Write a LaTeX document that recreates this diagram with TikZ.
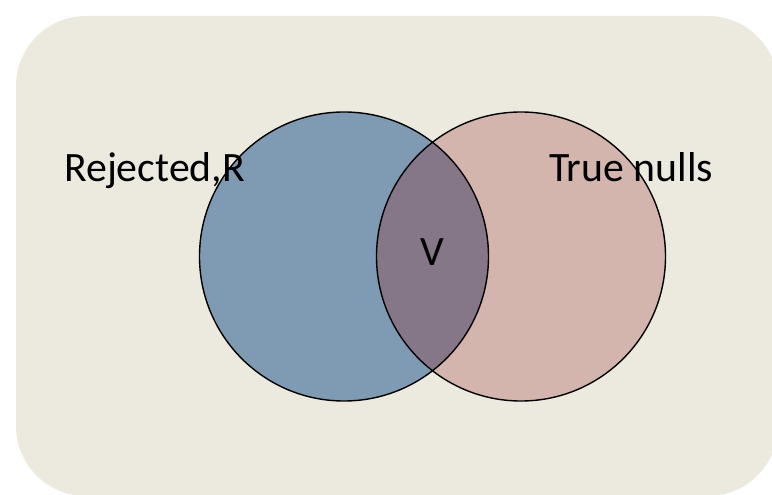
\documentclass[tikz,border=0pt]{standalone}
\usepackage{fontspec}
\setmainfont{Carlito}
\definecolor{bgbeige}{HTML}{ECE9DF}
\definecolor{setblue}{HTML}{7F9AB3}
\definecolor{setpink}{HTML}{D4B5AE}
\definecolor{setmix}{HTML}{857788}
\begin{document}
\begin{tikzpicture}[x=1pt,y=-1pt,
  lbl/.style={font=\fontsize{41.8}{50}\selectfont, inner sep=0pt, text=black},
  setcirc/.style={circle, minimum size=289pt, inner sep=0pt, draw=black, line width=1.4pt}]
\useasboundingbox (0,0) rectangle (772,495);
\begin{scope}
  \clip (0,0) rectangle (772,495);
  \fill[bgbeige, rounded corners=70pt] (16,16) rectangle (778,496);
\end{scope}
\fill[setblue] (344,256.5) circle (144.5);
\fill[setpink] (521,256.5) circle (144.5);
\begin{scope}
  \clip (344,256.5) circle (144.5);
  \fill[setmix] (521,256.5) circle (144.5);
\end{scope}
\node[setcirc] (rej) at (344,256.5) {};
\node[setcirc] (tru) at (521,256.5) {};
\node[lbl, anchor=base west] (rlab) at (64,181) {Rejected,R};
\node[lbl, anchor=base west] (tlab) at (549,181) {True nulls};
\node[lbl] (vlab) at (432,252) {V};
\end{tikzpicture}
\end{document}
